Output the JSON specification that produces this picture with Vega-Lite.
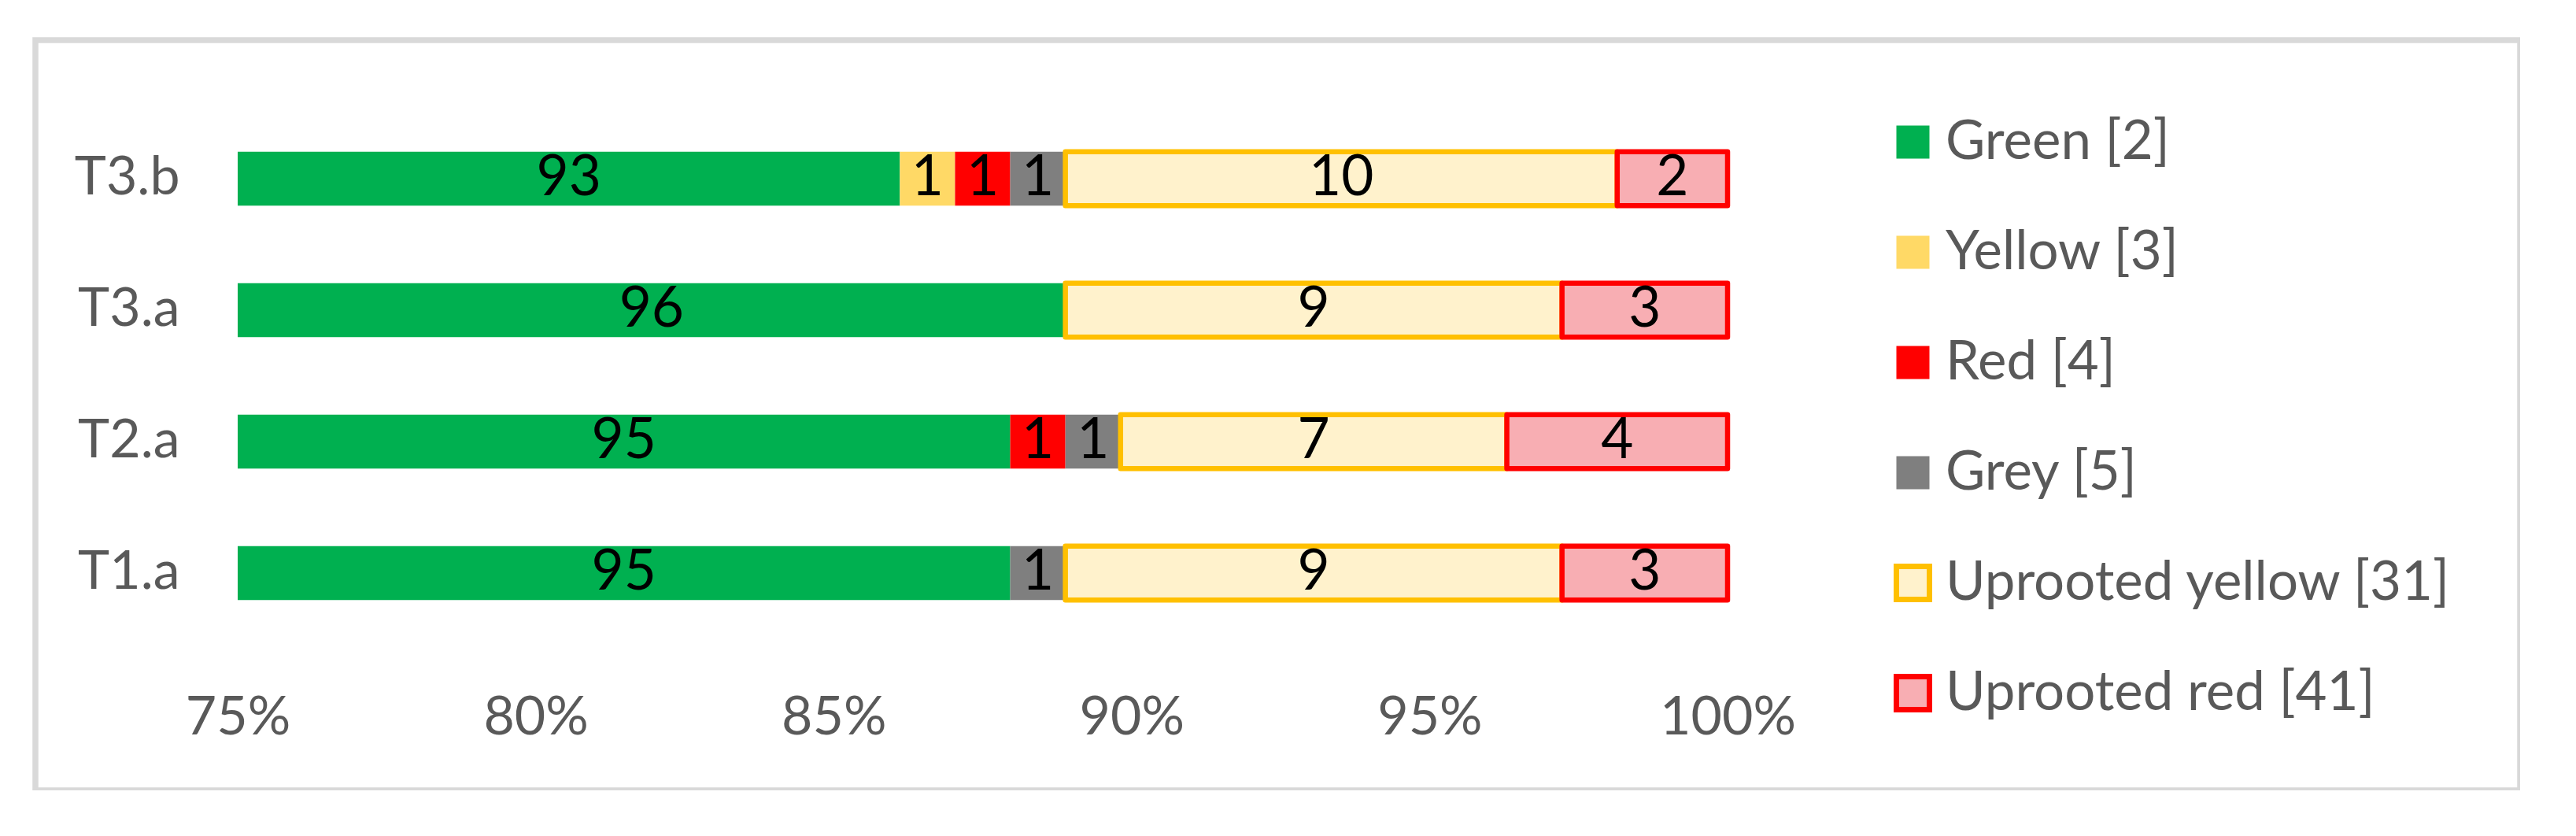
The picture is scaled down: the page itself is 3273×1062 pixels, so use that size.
{
  "$schema": "https://vega.github.io/schema/vega-lite/v6.json",
  "width": 3157,
  "height": 953,
  "autosize": "none",
  "padding": {"left": 45, "top": 51, "right": 0, "bottom": 0},
  "background": "white",
  "config": {
    "view": {"stroke": "#D9D9D9", "strokeWidth": 7.5},
    "font": "Lato"
  },
  "data": {
    "values": [
      {"trial": "T3.b", "category": "Green [2]", "code": 2, "count": 93},
      {"trial": "T3.b", "category": "Yellow [3]", "code": 3, "count": 1},
      {"trial": "T3.b", "category": "Red [4]", "code": 4, "count": 1},
      {"trial": "T3.b", "category": "Grey [5]", "code": 5, "count": 1},
      {"trial": "T3.b", "category": "Uprooted yellow [31]", "code": 31, "count": 10},
      {"trial": "T3.b", "category": "Uprooted red [41]", "code": 41, "count": 2},
      {"trial": "T3.a", "category": "Green [2]", "code": 2, "count": 96},
      {"trial": "T3.a", "category": "Uprooted yellow [31]", "code": 31, "count": 9},
      {"trial": "T3.a", "category": "Uprooted red [41]", "code": 41, "count": 3},
      {"trial": "T2.a", "category": "Green [2]", "code": 2, "count": 95},
      {"trial": "T2.a", "category": "Red [4]", "code": 4, "count": 1},
      {"trial": "T2.a", "category": "Grey [5]", "code": 5, "count": 1},
      {"trial": "T2.a", "category": "Uprooted yellow [31]", "code": 31, "count": 7},
      {"trial": "T2.a", "category": "Uprooted red [41]", "code": 41, "count": 4},
      {"trial": "T1.a", "category": "Green [2]", "code": 2, "count": 95},
      {"trial": "T1.a", "category": "Grey [5]", "code": 5, "count": 1},
      {"trial": "T1.a", "category": "Uprooted yellow [31]", "code": 31, "count": 9},
      {"trial": "T1.a", "category": "Uprooted red [41]", "code": 41, "count": 3}
    ]
  },
  "encoding": {
    "y": {
      "field": "trial",
      "type": "nominal",
      "sort": ["T3.b", "T3.a", "T2.a", "T1.a"],
      "title": null,
      "scale": {"range": [92.5, 760.5], "paddingInner": 0.59, "paddingOuter": 0.295},
      "axis": {
        "offset": -183,
        "ticks": false,
        "tickSize": 0,
        "domain": false,
        "grid": false,
        "labelPadding": 0,
        "labelFontSize": 68,
        "labelColor": "#595959",
        "labelFont": "Lato"
      }
    },
    "order": {"field": "code", "type": "quantitative"}
  },
  "layer": [
    {
      "mark": {"type": "bar", "strokeWidth": 6.5, "strokeJoin": "round"},
      "encoding": {
        "x": {
          "field": "count",
          "type": "quantitative",
          "stack": "normalize",
          "title": null,
          "scale": {"domain": [0.75, 1], "range": [257, 2150], "clamp": true, "nice": false, "zero": false},
          "axis": {
            "values": [0.75, 0.8, 0.85, 0.9, 0.95, 1],
            "format": ".0%",
            "offset": -72,
            "ticks": false,
            "tickSize": 0,
            "domain": false,
            "grid": false,
            "labelPadding": 0,
            "labelBaseline": "alphabetic",
            "labelFlush": false,
            "labelOverlap": false,
            "labelBound": false,
            "labelFontSize": 68,
            "labelColor": "#595959",
            "labelFont": "Lato"
          }
        },
        "fill": {
          "field": "category",
          "type": "nominal",
          "title": null,
          "scale": {
            "domain": ["Green [2]", "Yellow [3]", "Red [4]", "Grey [5]", "Uprooted yellow [31]", "Uprooted red [41]"],
            "range": ["#00B050", "#FFD966", "#FF0000", "#7F7F7F", "#FFF2CC", "#F8AEB3"]
          },
          "legend": {
            "orient": "none",
            "legendX": 2351,
            "legendY": 95,
            "title": null,
            "padding": 0,
            "symbolType": "square",
            "symbolSize": 1764,
            "symbolStrokeWidth": 7,
            "labelFontSize": 69,
            "labelColor": "#595959",
            "labelFont": "Lato",
            "labelOffset": 7,
            "labelLimit": 2000,
            "rowPadding": 69
          }
        },
        "stroke": {
          "field": "category",
          "type": "nominal",
          "title": null,
          "scale": {
            "domain": ["Green [2]", "Yellow [3]", "Red [4]", "Grey [5]", "Uprooted yellow [31]", "Uprooted red [41]"],
            "range": ["transparent", "transparent", "transparent", "transparent", "#FFC000", "#FF0000"]
          },
          "legend": {
            "orient": "none",
            "legendX": 2351,
            "legendY": 95,
            "title": null,
            "padding": 0,
            "symbolType": "square",
            "symbolSize": 1764,
            "symbolStrokeWidth": 7,
            "labelFontSize": 69,
            "labelColor": "#595959",
            "labelFont": "Lato",
            "labelOffset": 7,
            "labelLimit": 2000,
            "rowPadding": 69
          }
        }
      }
    },
    {
      "mark": {"type": "text", "fontSize": 71, "color": "#000000", "baseline": "middle", "font": "Lato"},
      "encoding": {
        "x": {
          "field": "count",
          "type": "quantitative",
          "stack": "normalize",
          "bandPosition": 0.5,
          "scale": {"domain": [0.75, 1], "range": [257, 2150], "clamp": true, "nice": false, "zero": false},
          "axis": null
        },
        "detail": {"field": "category", "type": "nominal"},
        "text": {"condition": {"test": "datum.code === 2", "value": ""}, "field": "count", "type": "quantitative"}
      }
    },
    {
      "mark": {"type": "text", "fontSize": 71, "color": "#000000", "baseline": "middle", "font": "Lato"},
      "encoding": {
        "x": {
          "field": "count",
          "type": "quantitative",
          "stack": "normalize",
          "scale": {"domain": [0.75, 1.25], "range": [257, 2150], "clamp": true, "nice": false, "zero": false},
          "axis": null
        },
        "detail": {"field": "category", "type": "nominal"},
        "text": {"condition": {"test": "datum.code !== 2", "value": ""}, "field": "count", "type": "quantitative"}
      }
    }
  ],
  "resolve": {"scale": {"x": "independent"}}
}
